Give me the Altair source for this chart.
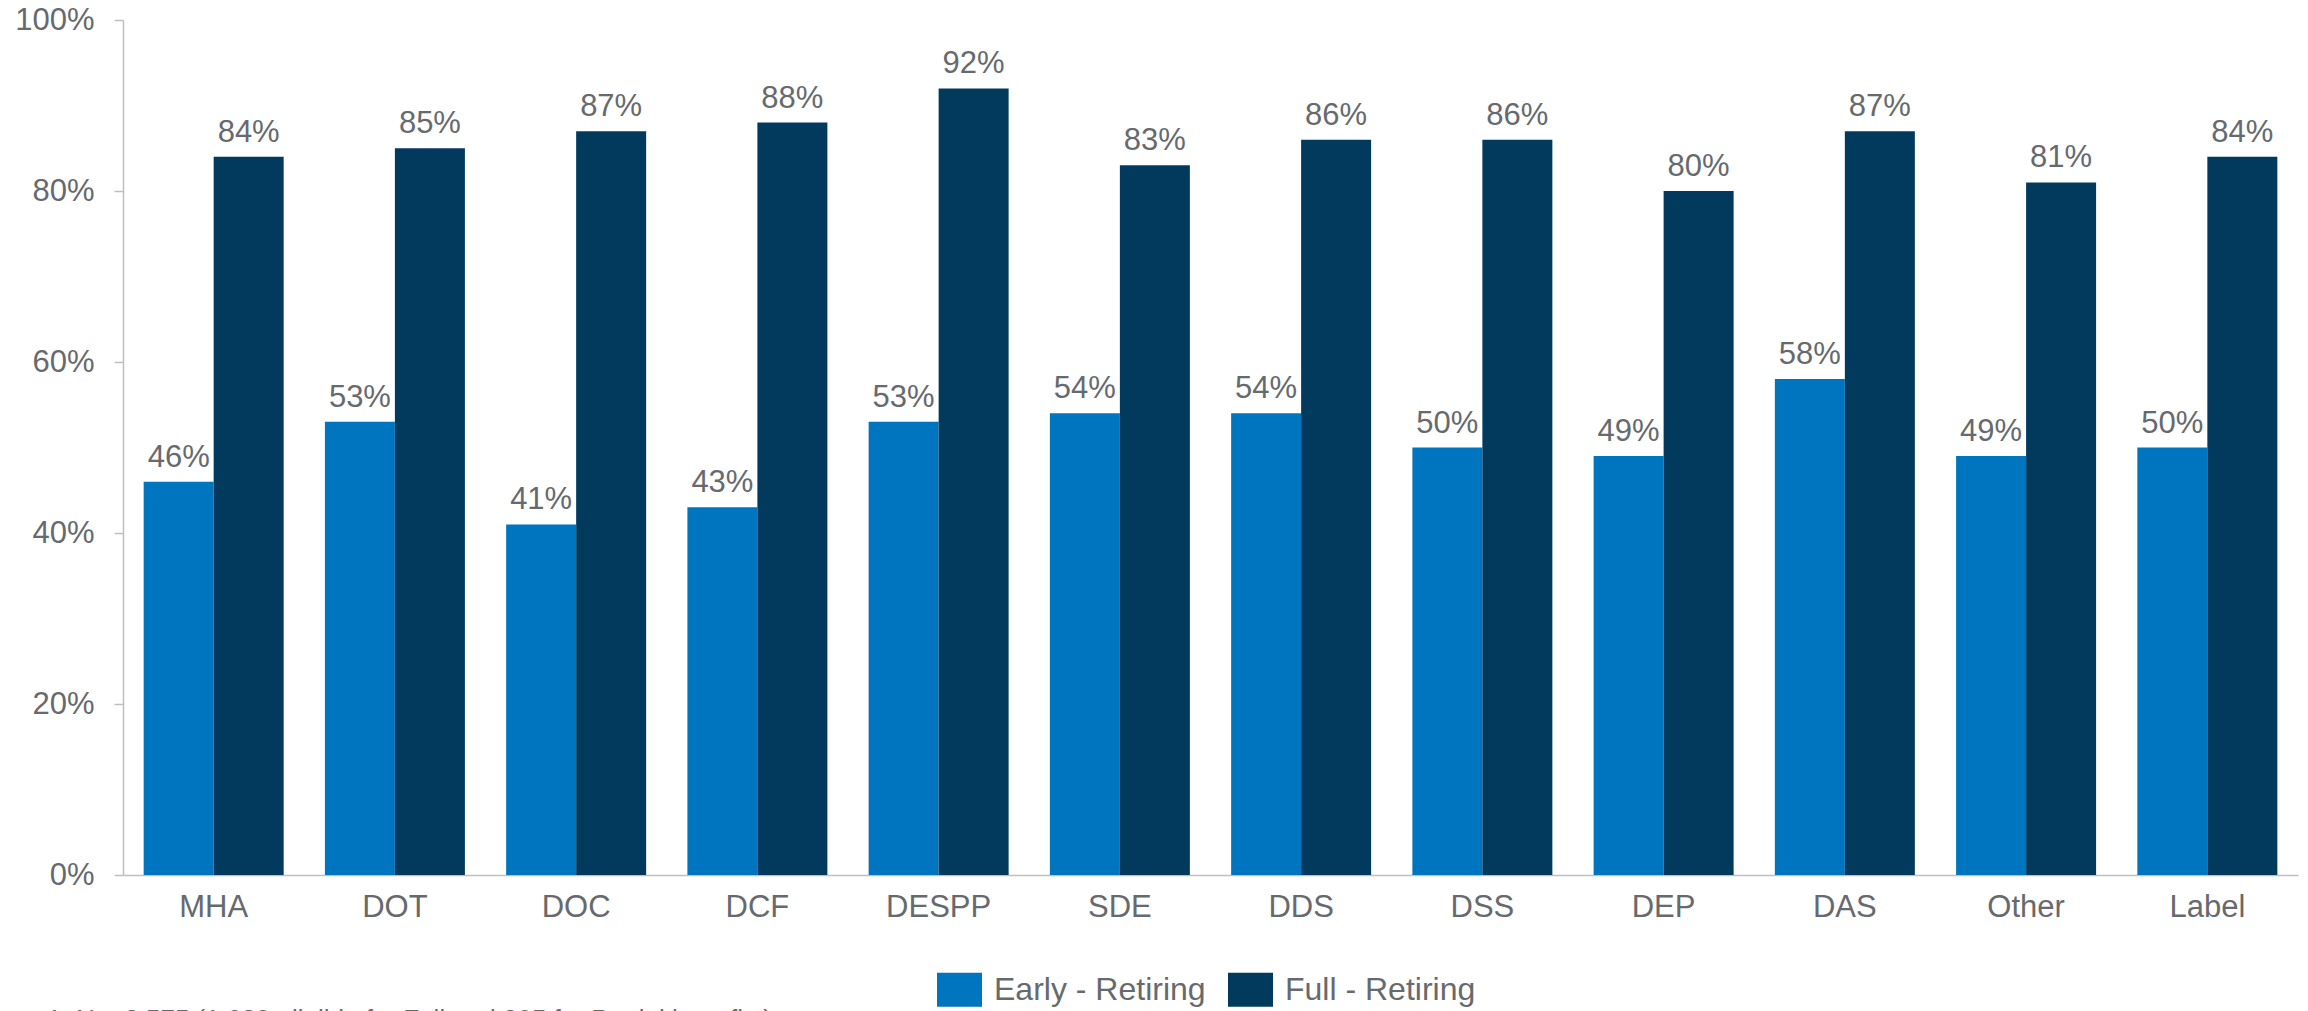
import altair as alt
import pandas as pd

categories = ["MHA", "DOT", "DOC", "DCF", "DESPP", "SDE", "DDS", "DSS", "DEP", "DAS", "Other", "Label"]
early = [46, 53, 41, 43, 53, 54, 54, 50, 49, 58, 49, 50]
full = [84, 85, 87, 88, 92, 83, 86, 86, 80, 87, 81, 84]
series = ["Early - Retiring", "Full - Retiring"]
colors = ["#0075BF", "#023A5E"]
y_ticks = [0, 0.2, 0.4, 0.6, 0.8, 1.0]
footnote = "1. N = 2,575 (1,680 eligible for Full and 895 for Partial benefits)"

GRAY = "#666A6E"
FONT = "Liberation Sans"

rows = []
for c, e, f in zip(categories, early, full):
    rows.append({"category": c, "series": series[0], "value": e / 100})
    rows.append({"category": c, "series": series[1], "value": f / 100})
df = pd.DataFrame(rows)

x = alt.X(
    "category:N",
    sort=categories,
    title=None,
    scale=alt.Scale(paddingInner=0.2276, paddingOuter=0.114),
    axis=alt.Axis(
        labelAngle=0,
        ticks=False,
        domainColor="#BFBFBF",
        domainWidth=1.5,
        labelPadding=17,
        labelFontSize=31,
        labelColor=GRAY,
        labelFont=FONT,
    ),
)
xo = alt.XOffset("series:N", sort=series, scale=alt.Scale(paddingInner=0, paddingOuter=0))
y = alt.Y(
    "value:Q",
    title=None,
    scale=alt.Scale(domain=[0, 1]),
    axis=alt.Axis(
        values=y_ticks,
        format="%",
        grid=False,
        domainColor="#BFBFBF",
        domainWidth=1.5,
        tickColor="#BFBFBF",
        tickWidth=1.5,
        tickSize=9,
        labelPadding=20,
        labelFontSize=31,
        labelColor=GRAY,
        labelFont=FONT,
    ),
)

bars = alt.Chart(df).mark_bar().encode(
    x=x,
    xOffset=xo,
    y=y,
    color=alt.Color(
        "series:N",
        sort=series,
        scale=alt.Scale(domain=series, range=colors),
        legend=alt.Legend(
            title=None,
            orient="none",
            legendX=814,
            legendY=947,
            direction="horizontal",
            symbolType="M-1,-0.756H1V0.756H-1Z",
            symbolSize=2025,
            symbolStrokeWidth=0,
            symbolOpacity=1,
            labelFontSize=32,
            labelFont=FONT,
            labelColor=GRAY,
            labelOffset=12,
            labelLimit=400,
            columnPadding=22,
            padding=0,
        ),
    ),
)

labels = alt.Chart(df).mark_text(
    baseline="bottom", dy=-8, fontSize=31, font=FONT, color=GRAY
).encode(
    x=x,
    xOffset=xo,
    y=y,
    text=alt.Text("value:Q", format=".0%"),
)

note = alt.Chart(pd.DataFrame({"t": [footnote]})).mark_text(
    align="left", baseline="top", fontSize=26, font=FONT, color=GRAY
).encode(x=alt.value(-76), y=alt.value(987), text="t:N")

chart = (
    alt.layer(bars, labels, note)
    .properties(
        width=2175,
        height=855,
        padding={"left": 115, "top": 12, "right": 2, "bottom": 136},
        autosize=alt.AutoSizeParams(type="none"),
    )
    .configure_view(stroke=None)
)

chart.save("out.html", embed_options={"renderer": "svg", "actions": False})
